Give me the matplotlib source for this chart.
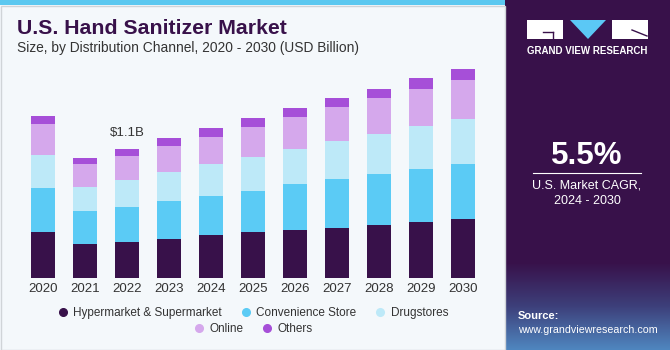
import numpy as np
import matplotlib.pyplot as plt
from matplotlib.patches import Rectangle, Polygon
from matplotlib.lines import Line2D
from matplotlib.colors import LinearSegmentedColormap

plt.rcParams['font.family'] = ['Liberation Sans', 'DejaVu Sans']

#datos (USD billion)
years = ["2020", "2021", "2022", "2023", "2024", "2025", "2026", "2027", "2028", "2029", "2030"]
hyper = [0.390, 0.289, 0.309, 0.337, 0.366, 0.391, 0.413, 0.430, 0.456, 0.476, 0.504]
conv = [0.374, 0.281, 0.298, 0.318, 0.332, 0.354, 0.386, 0.414, 0.428, 0.453, 0.470]
drug = [0.283, 0.204, 0.232, 0.252, 0.272, 0.284, 0.303, 0.323, 0.343, 0.368, 0.380]
online = [0.261, 0.201, 0.199, 0.218, 0.235, 0.255, 0.267, 0.286, 0.303, 0.309, 0.334]
others = [0.071, 0.048, 0.062, 0.068, 0.071, 0.079, 0.077, 0.079, 0.079, 0.096, 0.088]
channels = ["Hypermarket & Supermarket", "Convenience Store", "Drugstores", "Online", "Others"]
colors = ["#38114a", "#5bcbf5", "#bde9f8", "#d5a8ec", "#a64fd8"]
label_year = 2
label_text = "$1.1B"

fig = plt.figure(figsize=(6.7, 3.5), dpi=100)
fig.patch.set_facecolor("#f4f8fb")

#franja azul arriba y borde
fig.add_artist(Rectangle((0, 345/350), 505/670, 5/350, transform=fig.transFigure, color="#5bc8f0", lw=0))
fig.add_artist(Rectangle((0.5/670, 0.5/350), 504/670, 344/350, transform=fig.transFigure,
                         fill=False, ec="#d0d4d8", lw=1))

#titulo
fig.text(17/670, 1-28/350, "U.S. Hand Sanitizer Market", fontsize=15.3, fontweight="bold",
         color="#38114a", va="center")
fig.text(17/670, 1-48/350, "Size, by Distribution Channel, 2020 - 2030 (USD Billion)",
         fontsize=9.9, color="#333333", va="center")

#barras
ax = fig.add_axes([20/670, (350-278.3)/350, 470/670, (278.3-60)/350])
ax.set_facecolor("none")
x = np.arange(len(years))
bottom = np.zeros(len(years))
for vals, col, name in zip([hyper, conv, drug, online, others], colors, channels):
    ax.bar(x, vals, 0.58, bottom=bottom, color=col, label=name)
    bottom += np.array(vals)
ax.annotate(label_text, (label_year, bottom[label_year]), xytext=(0, 7), textcoords="offset points",
            ha="center", va="bottom", fontsize=9.5, color="#333333")
ax.set_xlim(-0.548, 10.65)
ax.set_ylim(0, 1.856)
ax.set_xticks(x)
ax.set_xticklabels(years, fontsize=9.5, color="#333333")
ax.tick_params(axis="x", length=0, pad=3.5)
ax.set_yticks([])
for s in ax.spines.values():
    s.set_visible(False)

#leyenda en dos filas
handles = [Line2D([], [], marker="o", ls="", color=c, markersize=5.5) for c in colors]
leg1 = fig.legend(handles[:3], channels[:3], ncol=3, loc="center", bbox_to_anchor=(252/670, 1-313/350),
                  frameon=False, fontsize=8.5, handlelength=1.2, handletextpad=0.3, columnspacing=1.4,
                  labelcolor="#333333")
leg2 = fig.legend(handles[3:], channels[3:], ncol=2, loc="center", bbox_to_anchor=(252/670, 1-329/350),
                  frameon=False, fontsize=8.5, handlelength=1.2, handletextpad=0.3, columnspacing=1.4,
                  labelcolor="#333333")

#panel derecho
pax = fig.add_axes([505/670, 0, 165/670, 1])
pax.set_xlim(0, 165)
pax.set_ylim(350, 0)
pax.axis("off")
pax.add_patch(Rectangle((0, 0), 165, 350, color="#38114a", lw=0))
grad = np.linspace(0, 1, 100).reshape(-1, 1)
cm = LinearSegmentedColormap.from_list("g", ["#38114a", "#3d3f7a", "#4f86bf"])
pax.imshow(grad, extent=(0, 165, 350, 262), cmap=cm, aspect="auto", zorder=1)

#logo
pax.add_patch(Rectangle((22, 20), 36, 19, color="white", lw=0, zorder=2))
pax.plot([38, 48], [32, 32], color="#38114a", lw=1, zorder=3)
pax.plot([48, 48], [32, 39], color="#38114a", lw=1, zorder=3)
pax.add_patch(Polygon([[65, 20], [101, 20], [83, 39]], closed=True, color="#5bc8f5", lw=0, zorder=2))
pax.add_patch(Rectangle((107, 20), 36, 19, color="white", lw=0, zorder=2))
pax.plot([127, 142], [30, 36], color="#38114a", lw=1, zorder=3)
pax.text(82, 51, "GRAND VIEW RESEARCH", color="white", fontsize=7, fontweight="bold",
         ha="center", va="center", zorder=3)

#cagr
pax.text(82, 156, "5.5%", color="white", fontsize=22.5, fontweight="bold", ha="center", va="center", zorder=3)
pax.plot([28, 136], [173.3, 173.3], color="white", lw=0.8, zorder=3)
pax.text(82, 186, "U.S. Market CAGR,", color="white", fontsize=9, ha="center", va="center", zorder=3)
pax.text(82, 201, "2024 - 2030", color="white", fontsize=9, ha="center", va="center", zorder=3)

#fuente
pax.text(13, 316, "Source:", color="white", fontsize=8, fontweight="bold", va="center", zorder=3)
pax.text(13, 330, "www.grandviewresearch.com", color="white", fontsize=7.7, va="center", zorder=3)

plt.savefig("out.png", dpi=100, facecolor=fig.get_facecolor())
